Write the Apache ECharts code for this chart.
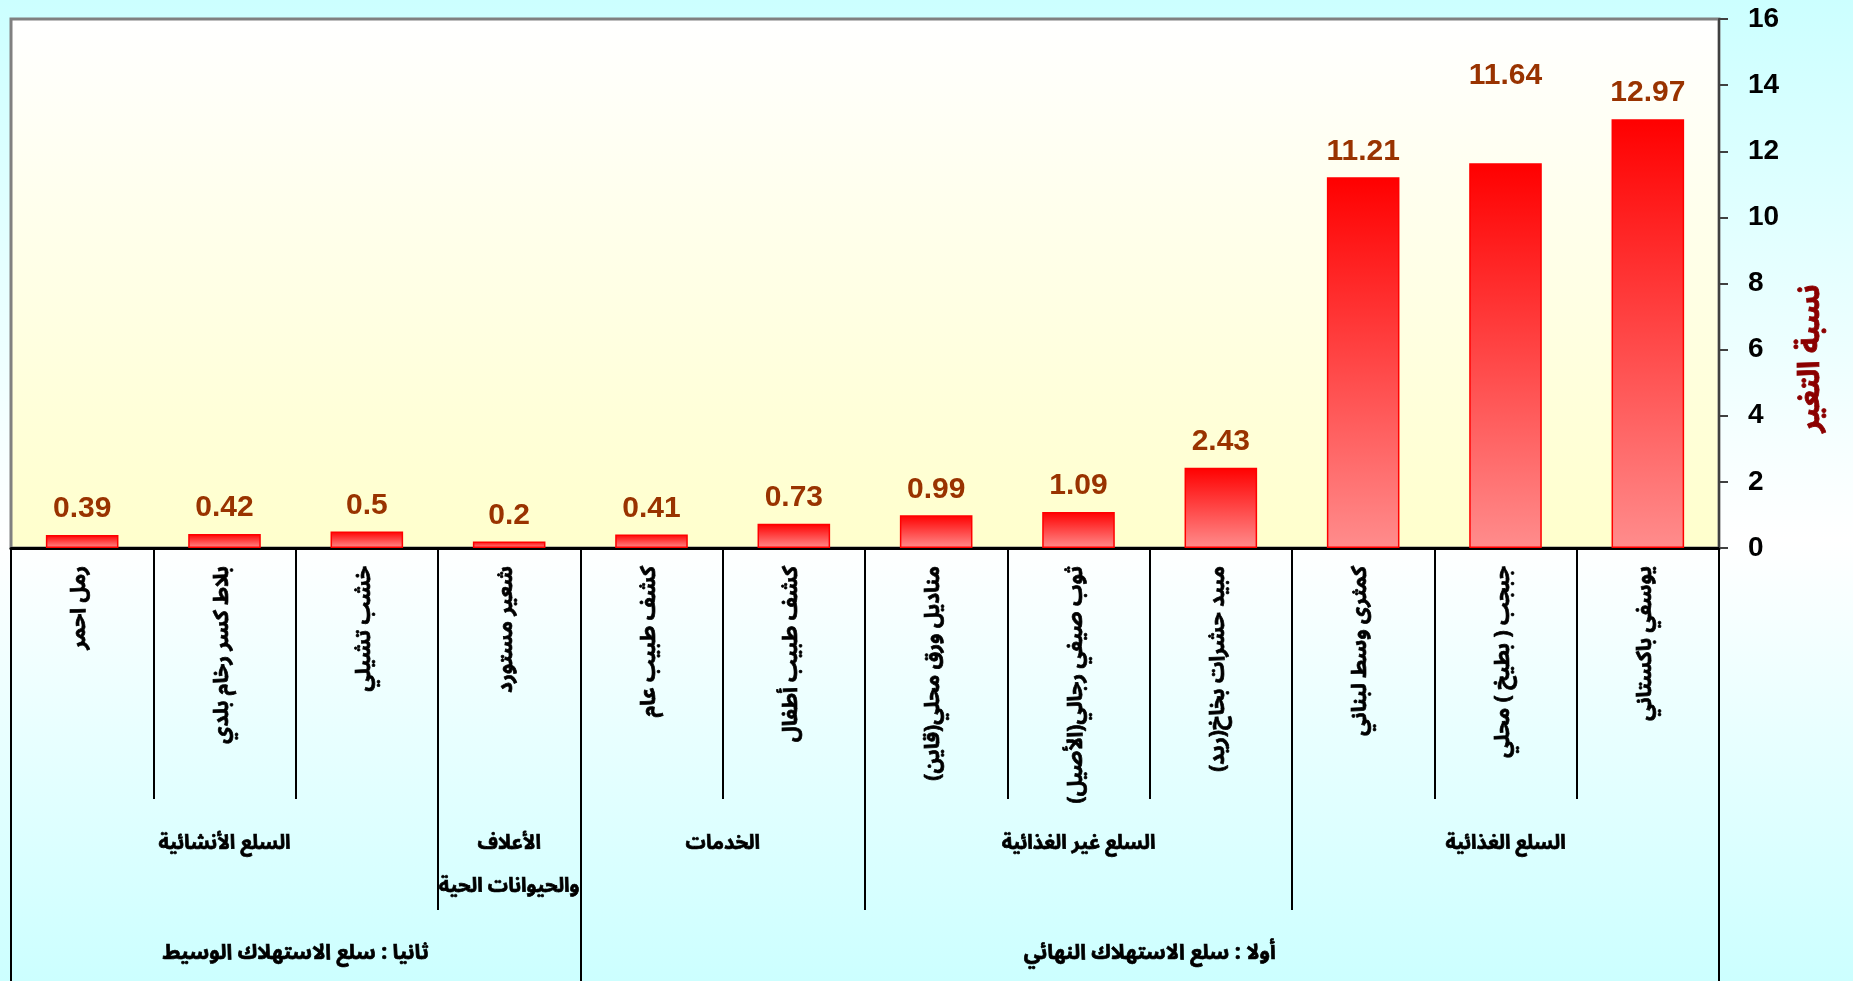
<!DOCTYPE html>
<html>
<head>
<meta charset="utf-8">
<script src="https://cdn.jsdelivr.net/npm/echarts@6/dist/echarts.min.js"></script>
<style>
  html, body { margin: 0; padding: 0; }
  #chart {
    width: 1853px; height: 981px;
    background: linear-gradient(to bottom, #CCFFFF 0%, #FFFFFF 55%, #CCFFFF 100%);
  }
</style>
</head>
<body>
<div id="chart"></div>
<script>
// ---- data (left to right) ----
const categories = [
  'رمل احمر',
  'بلاط كسر رخام بلدي',
  'خشب تشيلي',
  'شعير مستورد',
  'كشف طبيب عام',
  'كشف طبيب أطفال',
  'مناديل ورق محلي(قاين)',
  'ثوب صيفي رجالي(الأصيل)',
  'مبيد حشرات بخاخ(ريد)',
  'كمثرى وسط لبناني',
  'جبجب ( بطيخ ) محلي',
  'يوسفي باكستاني'
];
const values = [0.39, 0.42, 0.5, 0.2, 0.41, 0.73, 0.99, 1.09, 2.43, 11.21, 11.64, 12.97];

const groupNames = ['السلع الأنشائية', 'الأعلاف\nوالحيوانات الحية', 'الخدمات', 'السلع غير الغذائية', 'السلع الغذائية'];
const groupSizes = [3, 1, 2, 3, 3];

const sectorNames = ['ثانيا : سلع الاستهلاك الوسيط', 'أولا : سلع الاستهلاك النهائي'];
const sectorSizes = [4, 8];

const yAxisName = 'نسبة التغير';
const yMin = 0, yMax = 16, yStep = 2;

// ---- helpers ----
function boundaryStarts(sizes) {
  const s = new Set(); let acc = 0;
  sizes.forEach(n => { s.add(acc); acc += n; });
  return s;
}
function halfBandLabels(names, sizes) {
  const arr = new Array(categories.length * 2 + 1).fill('');
  let start = 0;
  names.forEach((n, i) => { arr[start * 2 + sizes[i]] = n; start += sizes[i]; });
  return arr;
}
const groupStarts = boundaryStarts(groupSizes);
const sectorStarts = boundaryStarts(sectorSizes);

const AR_FONT = "'Noto Sans Arabic', 'Noto Naskh Arabic', 'DejaVu Sans', sans-serif";
const NUM_FONT = "'Liberation Sans', Arial, sans-serif";

const chart = echarts.init(document.getElementById('chart'), null, { renderer: 'canvas' });

const barData = values.map((v, i) => {
  const item = { value: v };
  if (i === 10) item.label = { offset: [0, -61] };
  return item;
});

const arText = (size, margin, extra) => Object.assign({
  interval: 0, margin: margin,
  color: '#000000', fontFamily: AR_FONT, fontWeight: 'bold', fontSize: size,
  textBorderColor: '#000000', textBorderWidth: 0.7
}, extra || {});

const hiddenAxisBase = {
  type: 'category',
  gridIndex: 0,
  position: 'bottom',
  offset: 0,
  axisLine: { show: false },
  splitLine: { show: false }
};

const option = {
  backgroundColor: 'transparent',
  animation: false,
  grid: {
    left: 11, right: 134, top: 19, bottom: 433,
    show: true,
    borderColor: '#808080',
    borderWidth: 3,
    backgroundColor: {
      type: 'linear', x: 0, y: 0, x2: 0, y2: 1,
      colorStops: [{ offset: 0, color: '#FFFFFF' }, { offset: 1, color: '#FFFFCC' }]
    }
  },
  xAxis: [
    {
      type: 'category',
      data: categories,
      position: 'bottom',
      boundaryGap: true,
      axisLine: { show: true, lineStyle: { color: '#000000', width: 3 } },
      axisTick: { show: true, interval: 0, length: 251, lineStyle: { color: '#000000', width: 2 } },
      axisLabel: arText(21, 18, { rotate: 90 }),
      splitLine: { show: false }
    },
    Object.assign({}, hiddenAxisBase, {
      data: categories,
      boundaryGap: true,
      axisTick: { show: true, interval: (idx) => groupStarts.has(idx), length: 362, lineStyle: { color: '#000000', width: 2 } },
      axisLabel: { show: false }
    }),
    Object.assign({}, hiddenAxisBase, {
      data: categories,
      boundaryGap: true,
      axisTick: { show: true, interval: (idx) => sectorStarts.has(idx), length: 433, lineStyle: { color: '#000000', width: 2 } },
      axisLabel: { show: false }
    }),
    Object.assign({}, hiddenAxisBase, {
      data: halfBandLabels(groupNames, groupSizes),
      boundaryGap: false,
      axisTick: { show: false },
      axisLabel: arText(20, 276, { lineHeight: 43, align: 'center' })
    }),
    Object.assign({}, hiddenAxisBase, {
      data: halfBandLabels(sectorNames, sectorSizes),
      boundaryGap: false,
      axisTick: { show: false },
      axisLabel: arText(21, 395, { lineHeight: 26, align: 'center' })
    })
  ],
  yAxis: {
    type: 'value',
    position: 'right',
    min: yMin, max: yMax, interval: yStep,
    axisLine: { show: true, lineStyle: { color: '#404040', width: 2 } },
    axisTick: { show: true, length: 9, lineStyle: { color: '#404040', width: 2 } },
    axisLabel: { margin: 29, color: '#000000', fontFamily: NUM_FONT, fontWeight: 'bold', fontSize: 28 },
    splitLine: { show: false },
    name: yAxisName,
    nameLocation: 'middle',
    nameRotate: 90,
    nameGap: 80,
    nameTextStyle: {
      color: '#8B0000', fontFamily: AR_FONT, fontWeight: 'bold', fontSize: 30,
      textBorderColor: '#8B0000', textBorderWidth: 0.8,
      padding: [0, 150, 0, 0]
    }
  },
  series: [{
    type: 'bar',
    xAxisIndex: 0,
    yAxisIndex: 0,
    data: barData,
    barWidth: '51%',
    itemStyle: {
      color: {
        type: 'linear', x: 0, y: 0, x2: 0, y2: 1,
        colorStops: [{ offset: 0, color: '#FF0000' }, { offset: 1, color: '#FF8C8C' }]
      },
      borderColor: '#FF0000',
      borderWidth: 1.5
    },
    label: {
      show: true,
      position: 'top',
      distance: 11,
      color: '#993300',
      fontFamily: NUM_FONT,
      fontWeight: 'bold',
      fontSize: 30
    }
  }]
};

chart.setOption(option);
</script>
</body>
</html>
